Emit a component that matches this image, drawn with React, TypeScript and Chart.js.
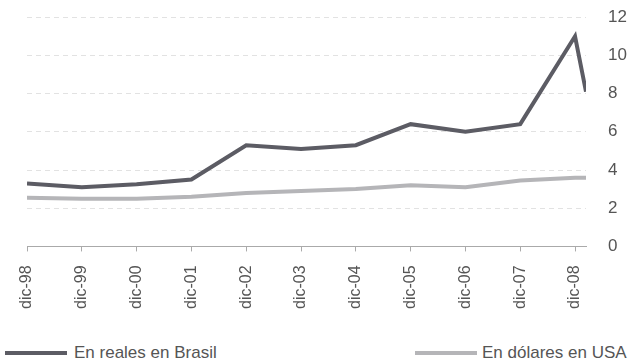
import React, { useEffect, useRef } from "react";
import { Chart, registerables } from "chart.js";

Chart.register(...registerables);

const categories = ["dic-98", "dic-99", "dic-00", "dic-01", "dic-02", "dic-03", "dic-04", "dic-05", "dic-06", "dic-07", "dic-08"];
const xPositions = [0, 1, 2, 3, 4, 5, 6, 7, 8, 9, 10, 10.2];
const realesBrasil = [3.3, 3.1, 3.25, 3.5, 5.3, 5.1, 5.3, 6.4, 6.0, 6.4, 11.0, 8.1];
const dolaresUSA = [2.55, 2.5, 2.5, 2.6, 2.8, 2.9, 3.0, 3.2, 3.1, 3.45, 3.6, 3.6];
const yTicks = [0, 2, 4, 6, 8, 10, 12];

const seriesNames = ["En reales en Brasil", "En dólares en USA"];
const darkColor = "#5c5c64";
const lightColor = "#b5b5b8";
const axisFont = "'Liberation Sans', Arial, sans-serif";

export default function App() {
  const ref = useRef<HTMLCanvasElement | null>(null);
  useEffect(() => {
    if (!ref.current) return;
    const chart = new Chart(ref.current, {
      type: "line",
      data: {
        datasets: [
          {
            label: seriesNames[0],
            data: xPositions.map((x, i) => ({ x, y: realesBrasil[i] })),
            borderColor: darkColor,
            borderWidth: 4,
            pointRadius: 0,
            tension: 0,
          },
          {
            label: seriesNames[1],
            data: xPositions.map((x, i) => ({ x, y: dolaresUSA[i] })),
            borderColor: lightColor,
            borderWidth: 4,
            pointRadius: 0,
            tension: 0,
          },
        ],
      },
      options: {
        animation: false,
        responsive: false,
        layout: { padding: { top: 8, left: 27, right: 0, bottom: 0 } },
        plugins: { legend: { display: false }, tooltip: { enabled: false } },
        scales: {
          x: {
            type: "linear",
            min: 0,
            max: 10.2,
            afterBuildTicks: (axis: any) => {
              axis.ticks = categories.map((_, i) => ({ value: i }));
            },
            ticks: {
              stepSize: 1,
              includeBounds: false,
              autoSkip: false,
              minRotation: 90,
              maxRotation: 90,
              padding: 14,
              color: "#555",
              font: { family: axisFont, size: 16 },
              callback: (v: any) => categories[Math.round(Number(v))] ?? "",
            },
            grid: { drawOnChartArea: false, drawTicks: true, tickLength: 5, color: "#aaa" },
            border: { display: true, color: "#aaa" },
          },
          y: {
            position: "right",
            min: 0,
            max: 12,
            afterBuildTicks: (axis: any) => {
              axis.ticks = yTicks.map((v) => ({ value: v }));
            },
            afterFit: (axis: any) => {
              axis.width = 44;
            },
            ticks: {
              stepSize: 2,
              padding: 22,
              crossAlign: "near",
              color: "#555",
              font: { family: axisFont, size: 17 },
            },
            grid: { color: "#e2e2e2", drawTicks: false, lineWidth: 1 },
            border: { display: false, dash: [5, 4] },
          },
        },
      },
    });
    return () => chart.destroy();
  }, []);

  const legendText: React.CSSProperties = {
    position: "absolute",
    top: 343,
    fontFamily: "'Liberation Sans', Arial, sans-serif",
    fontSize: 17,
    color: "#555",
    lineHeight: "20px",
    whiteSpace: "nowrap",
  };
  const lineSample = (color: string, left: number, width: number): React.CSSProperties => ({
    position: "absolute",
    left,
    top: 351,
    width,
    height: 4,
    background: color,
  });

  return (
    <div style={{ position: "absolute", left: 0, top: 0, width: 630, height: 362, background: "#fff", overflow: "hidden" }}>
      <canvas ref={ref} width={630} height={338} style={{ display: "block", position: "absolute", left: 0, top: -15 }} />
      <div style={lineSample(darkColor, 5, 62)} />
      <div style={{ ...legendText, left: 74 }}>{seriesNames[0]}</div>
      <div style={lineSample(lightColor, 415, 62)} />
      <div style={{ ...legendText, left: 482 }}>{seriesNames[1]}</div>
    </div>
  );
}
